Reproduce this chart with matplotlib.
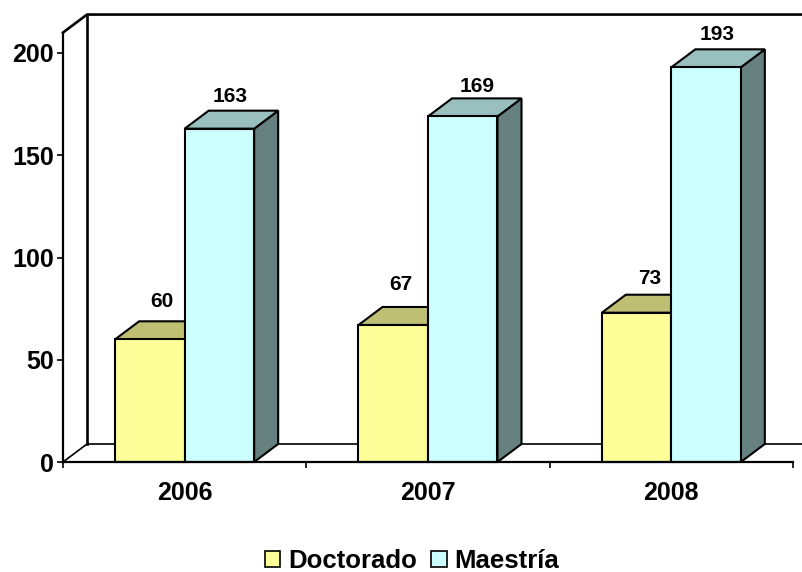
import numpy as np
import matplotlib
matplotlib.use('Agg')
import matplotlib.pyplot as plt
from matplotlib.patches import Patch, Polygon

plt.rcParams['font.family'] = ['Liberation Sans', 'DejaVu Sans']
plt.rcParams['font.weight'] = 'bold'

# Chart data
years = ['2006', '2007', '2008']
doctorado = [60, 67, 73]
maestria = [163, 169, 193]

# Layout in figure pixels
W, H = 803, 572
LEFT, RIGHT, BASE = 63, 793, 462
PX_PER_UNIT = 2.045
YMAX = 210
DX_PX, DY_PX = 24, 18
BAR_PX = 69.5

# small label nudges in points, the original places them by hand
NUDGE_D = [(0, 3), (-3.5, 5), (0.7, 0)]
NUDGE_M = [(-0.7, -1.5), (1.5, -3), (-0.7, -0.7)]

# Colours (front, top, side)
YELLOW = ('#FFFF99', '#BFBF73', '#808066')
CYAN = ('#CCFFFF', '#99BFBF', '#668080')

fig = plt.figure(figsize=(W / 100, H / 100), dpi=100)
height = YMAX * PX_PER_UNIT
ax = fig.add_axes([LEFT / W, (H - BASE) / H, (RIGHT - LEFT) / W, height / H])
ax.set_xlim(0, 3)
ax.set_ylim(0, YMAX)
ax.patch.set_visible(False)

# depth of the 3D look, in data units
dx = DX_PX / ((RIGHT - LEFT) / 3)
dy = DY_PX / PX_PER_UNIT
bar_w = BAR_PX / ((RIGHT - LEFT) / 3)

# back wall and floor
wall = dict(color='black', clip_on=False, solid_capstyle='projecting', zorder=1)
ax.plot([0, dx, 3.2], [YMAX, YMAX + dy, YMAX + dy], lw=1.9, **wall)
ax.plot([dx, dx], [dy, YMAX + dy], lw=1.9, **wall)
ax.plot([0, dx, 3.2], [0, dy, dy], lw=1.2, **wall)


def draw_bar(x0, value, colours, nudge):
    x1 = x0 + bar_w
    edge = dict(edgecolor='black', linewidth=1.5, joinstyle='miter', clip_on=False, zorder=3)
    ax.add_patch(Polygon([(x1, 0), (x1 + dx, dy), (x1 + dx, value + dy), (x1, value)],
                         facecolor=colours[2], **edge))
    ax.add_patch(Polygon([(x0, value), (x0 + dx, value + dy), (x1 + dx, value + dy), (x1, value)],
                         facecolor=colours[1], **edge))
    ax.bar(x0, value, width=bar_w, align='edge', color=colours[0], edgecolor='black',
           linewidth=1.5, clip_on=False, zorder=3)
    ax.annotate(str(value), (x0 + bar_w / 2 + dx / 2, value + dy),
                xytext=(nudge[0], 11.5 + nudge[1]),
                textcoords='offset points', ha='center', va='center', fontsize=15,
                fontweight='bold', zorder=5)


centers = np.arange(3) + 0.5
for i, c in enumerate(centers):
    draw_bar(c - bar_w, doctorado[i], YELLOW, NUDGE_D[i])
    draw_bar(c, maestria[i], CYAN, NUDGE_M[i])

# axes
for side in ['top', 'right']:
    ax.spines[side].set_visible(False)
for side in ['left', 'bottom']:
    ax.spines[side].set_linewidth(1.6)
    ax.spines[side].set_zorder(4)
ax.spines['left'].set_bounds(0, YMAX)
ax.set_yticks([0, 50, 100, 150, 200])
ax.set_xticks([0, 1, 2, 3])
ax.set_xticks(centers, years, minor=True)
ax.tick_params(axis='both', which='major', length=4.5, width=1.2)
ax.tick_params(axis='x', which='major', labelbottom=False)
ax.tick_params(axis='x', which='minor', length=0, pad=13.5, labelsize=18)
ax.tick_params(axis='y', labelsize=18, pad=2)

handles = [Patch(facecolor=YELLOW[0], edgecolor='black', linewidth=1.2),
           Patch(facecolor=CYAN[0], edgecolor='black', linewidth=1.2)]
fig.legend(handles, ['Doctorado', 'Maestría'], ncol=2, frameon=False, fontsize=18.5,
           loc='center', bbox_to_anchor=(412 / W, 1 - 561 / H), handlelength=0.6,
           handleheight=0.6, handletextpad=0.3, columnspacing=0.55,
           borderpad=0, borderaxespad=0)

fig.savefig('out.png', dpi=100)
